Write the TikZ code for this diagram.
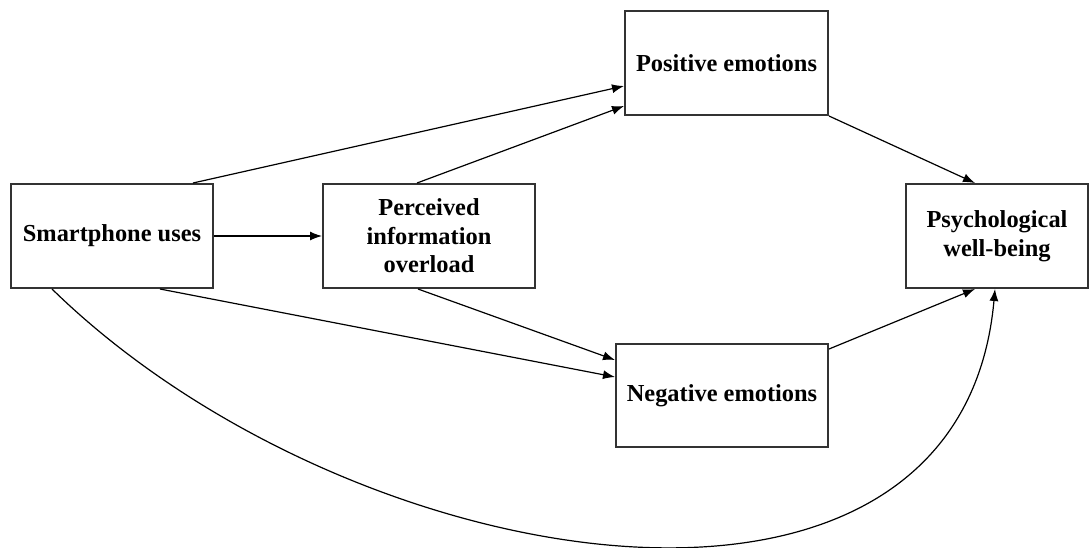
\documentclass[tikz,border=0pt]{standalone}
\usepackage{fontspec}
\setmainfont{Liberation Serif}
\usetikzlibrary{arrows.meta}

\begin{document}
\begin{tikzpicture}[x=0.5pt,y=-0.5pt,
  box/.style={draw=black!80,line width=1pt,inner sep=0pt,align=center,
    minimum height=52pt,font=\fontsize{12.2}{14.25}\selectfont\bfseries},
  link/.style={-{Latex[length=6pt,width=4.5pt]},line width=0.6pt}]
\useasboundingbox (0,0) rectangle (1090,547);
\node[box,minimum width=101pt] (smart) at (112,236) {Smartphone uses};
\node[box,minimum width=106pt] (over) at (429,236) {Perceived\\information\\overload};
\node[box,minimum width=101.5pt] (pos) at (726.5,63) {Positive emotions};
\node[box,minimum width=106pt,minimum height=51.5pt] (neg) at (722,395.5) {Negative emotions};
\node[box,minimum width=91pt] (psych) at (997,236) {Psychological\\well-being};
\draw[link] (smart) -- (over);
\draw[link] ([xshift=-10.5pt]smart.north east) -- ([yshift=-11.5pt]pos.west);
\draw[link] ([xshift=-6pt]over.north) -- ([yshift=-21.5pt]pos.west);
\draw[link] ([xshift=-5.5pt]over.south) -- ([yshift=17.75pt]neg.west);
\draw[link] ([xshift=24pt]smart.south) -- ([yshift=9.25pt]neg.west);
\draw[link] (pos.south east) -- ([xshift=-11pt]psych.north);
\draw[link] ([yshift=-3pt]neg.north east) -- ([xshift=-11pt]psych.south);
\draw[link] ([xshift=-30pt]smart.south) .. controls (350,580) and (960,680) .. ([xshift=-1pt]psych.south);
\end{tikzpicture}
\end{document}
